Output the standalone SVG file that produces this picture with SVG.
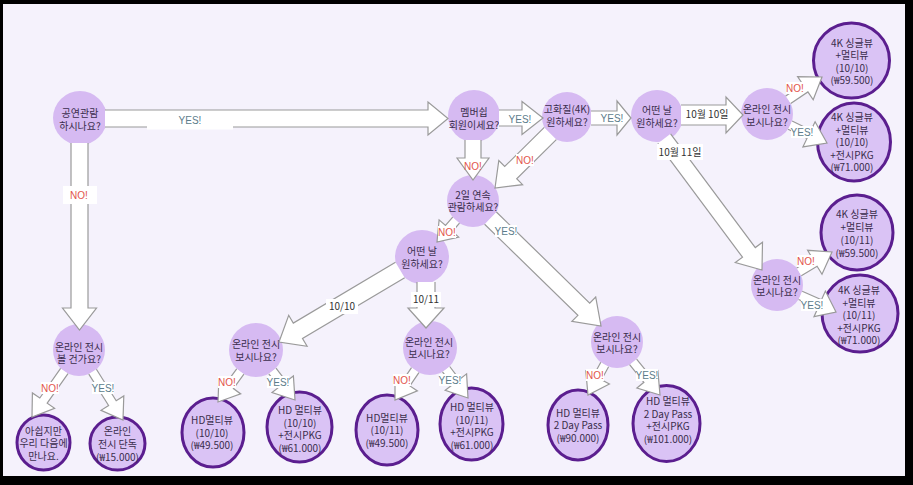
<svg xmlns="http://www.w3.org/2000/svg" width="913" height="485" viewBox="0 0 913 485">
<style>
.q{fill:#D6BAF2}
.e{fill:#DAC3F5;stroke:#5B1E8F;stroke-width:3}
.t{font-family:"Noto Sans CJK KR","Noto Sans",sans-serif;font-size:10px;fill:#3A2D4C;text-anchor:middle}
.ar{fill:#fff;stroke:#9A9A9A;stroke-width:1.2;stroke-linejoin:miter}
.lb{fill:#fff}
.no{font-family:"Liberation Sans",sans-serif;font-size:10px;fill:#E2554B;text-anchor:middle}
.yes{font-family:"Liberation Sans",sans-serif;font-size:10px;fill:#5C7C8B;text-anchor:middle}
.d{font-family:"Noto Sans CJK KR","Noto Sans",sans-serif;font-size:10px;fill:#333;text-anchor:middle}
</style>
<rect x="0" y="0" width="913" height="485" fill="#000"/>
<rect x="3" y="4" width="902" height="472" fill="#F5F2FC"/>

<g id="n1"><circle class="q" cx="80" cy="118" r="27"/><text class="t"><tspan x="80" y="117">공연관람</tspan><tspan x="80" y="130">하시나요?</tspan></text></g>
<g id="n2"><circle class="q" cx="474" cy="116" r="26"/><text class="t"><tspan x="474" y="116">멤버쉽</tspan><tspan x="474" y="129">회원이세요?</tspan></text></g>
<g id="n3"><circle class="q" cx="567" cy="117" r="25"/><text class="t"><tspan x="567" y="113">고화질(4K)</tspan><tspan x="567" y="126">원하세요?</tspan></text></g>
<g id="n4"><circle class="q" cx="657" cy="116" r="26"/><text class="t"><tspan x="657" y="114">어떤 날</tspan><tspan x="657" y="127">원하세요?</tspan></text></g>
<g id="n5"><circle class="q" cx="767" cy="114" r="26"/><text class="t"><tspan x="767" y="113">온라인 전시</tspan><tspan x="767" y="126">보시나요?</tspan></text></g>
<g id="n6"><ellipse class="e" cx="851.5" cy="60.5" rx="38" ry="37.5"/><text class="t"><tspan x="852" y="46.5">4K 싱글뷰</tspan><tspan x="852" y="59">+멀티뷰</tspan><tspan x="852" y="71.5">(10/10)</tspan><tspan x="852" y="84">(₩59.500)</tspan></text></g>
<g id="n7"><ellipse class="e" cx="854" cy="142" rx="36.5" ry="39"/><text class="t"><tspan x="852" y="121">4K 싱글뷰</tspan><tspan x="852" y="133.5">+멀티뷰</tspan><tspan x="852" y="146">(10/10)</tspan><tspan x="852" y="158.5">+전시PKG</tspan><tspan x="852" y="171">(₩71.000)</tspan></text></g>
<g id="n8"><ellipse class="e" cx="857" cy="232.5" rx="36" ry="37.5"/><text class="t"><tspan x="857" y="218">4K 싱글뷰</tspan><tspan x="857" y="231">+멀티뷰</tspan><tspan x="857" y="244">(10/11)</tspan><tspan x="857" y="257">(₩59.500)</tspan></text></g>
<g id="n9"><circle class="q" cx="777" cy="285" r="26"/><text class="t"><tspan x="777" y="283.5">온라인 전시</tspan><tspan x="777" y="296">보시나요?</tspan></text></g>
<g id="n10"><ellipse class="e" cx="860" cy="313.5" rx="38" ry="38.5"/><text class="t"><tspan x="859" y="294">4K 싱글뷰</tspan><tspan x="859" y="306.5">+멀티뷰</tspan><tspan x="859" y="319">(10/11)</tspan><tspan x="859" y="331.5">+전시PKG</tspan><tspan x="859" y="344">(₩71.000)</tspan></text></g>
<g id="n11"><circle class="q" cx="79" cy="350" r="26"/><text class="t"><tspan x="79" y="350.5">온라인 전시</tspan><tspan x="79" y="363">볼 건가요?</tspan></text></g>
<g id="n12"><ellipse class="e" cx="43.5" cy="442.5" rx="26.5" ry="27.5"/><text class="t"><tspan x="43.5" y="434.5">아쉽지만</tspan><tspan x="43.5" y="447">우리 다음에</tspan><tspan x="43.5" y="459.5">만나요.</tspan></text></g>
<g id="n13"><ellipse class="e" cx="117.5" cy="443.5" rx="27.5" ry="26.5"/><text class="t"><tspan x="117.5" y="435">온라인</tspan><tspan x="117.5" y="448">전시 단독</tspan><tspan x="117.5" y="461">(₩15.000)</tspan></text></g>
<g id="n14"><ellipse class="e" cx="213" cy="432.5" rx="31" ry="34.5"/><text class="t"><tspan x="212" y="424">HD멀티뷰</tspan><tspan x="212" y="436.5">(10/10)</tspan><tspan x="212" y="449">(₩49.500)</tspan></text></g>
<g id="n15"><circle class="q" cx="256" cy="350" r="27"/><text class="t"><tspan x="256" y="348">온라인 전시</tspan><tspan x="256" y="361">보시나요?</tspan></text></g>
<g id="n16"><ellipse class="e" cx="299.5" cy="427" rx="32.5" ry="35"/><text class="t"><tspan x="300" y="414">HD 멀티뷰</tspan><tspan x="300" y="426.5">(10/10)</tspan><tspan x="300" y="439">+전시PKG</tspan><tspan x="300" y="451.5">(₩61.000)</tspan></text></g>
<g id="n17"><circle class="q" cx="422" cy="257" r="27"/><text class="t"><tspan x="422" y="255">어떤 날</tspan><tspan x="422" y="268">원하세요?</tspan></text></g>
<g id="n18"><circle class="q" cx="430" cy="348" r="27"/><text class="t"><tspan x="429" y="345.5">온라인 전시</tspan><tspan x="429" y="358">보시나요?</tspan></text></g>
<g id="n19"><ellipse class="e" cx="387" cy="430" rx="31" ry="35"/><text class="t"><tspan x="387" y="421.5">HD멀티뷰</tspan><tspan x="387" y="434">(10/11)</tspan><tspan x="387" y="446.5">(₩49.500)</tspan></text></g>
<g id="n20"><ellipse class="e" cx="471.5" cy="424" rx="31.5" ry="36"/><text class="t"><tspan x="472" y="411">HD 멀티뷰</tspan><tspan x="472" y="423.5">(10/11)</tspan><tspan x="472" y="436">+전시PKG</tspan><tspan x="472" y="448.5">(₩61.000)</tspan></text></g>
<g id="n21"><circle class="q" cx="473" cy="201" r="26"/><text class="t"><tspan x="473" y="198.5">2일 연속</tspan><tspan x="473" y="211">관람하세요?</tspan></text></g>
<g id="n22"><circle class="q" cx="617" cy="342" r="26"/><text class="t"><tspan x="617" y="340.5">온라인 전시</tspan><tspan x="617" y="353">보시나요?</tspan></text></g>
<g id="n23"><ellipse class="e" cx="578" cy="425" rx="30" ry="35"/><text class="t"><tspan x="578" y="416.5">HD 멀티뷰</tspan><tspan x="578" y="429">2 Day Pass</tspan><tspan x="578" y="441.5">(₩90.000)</tspan></text></g>
<g id="n24"><ellipse class="e" cx="666.5" cy="423.5" rx="33.5" ry="38"/><text class="t"><tspan x="668" y="405">HD 멀티뷰</tspan><tspan x="668" y="417.5">2 Day Pass</tspan><tspan x="668" y="430">+전시PKG</tspan><tspan x="668" y="442.5">(₩101.000)</tspan></text></g>

<g id="connectors">
<path class="ar" d="M105,127 L428,127 L428,135 L448,118.5 L428,102 L428,110 L105,110"/>
<path class="ar" d="M71,143 L71,308 L62.5,308 L79.5,330 L96.5,308 L88,308 L88,143"/>
<path class="ar" d="M499,126 L522,126 L522,134.5 L543,118 L522,101.5 L522,110 L499,110"/>
<path class="ar" d="M591,125 L617,125 L617,135 L631,118 L617,101 L617,111 L591,111"/>
<path class="ar" d="M681,125 L726,125 L726,133 L743,115 L726,97 L726,105 L681,105"/>
<path class="ar" d="M657.8,143.4 L742.5,257.2 L735.3,262.5 L762,270 L762.5,242.3 L755.3,247.6 L670.6,133.8"/>
<path class="ar" d="M790.7,103.4 L807.9,91.9 L813.2,99.8 L822,77 L797.6,76.6 L802.9,84.5 L785.7,95.9"/>
<path class="ar" d="M788.1,129.2 L807,138.4 L802.9,146.9 L827,143 L815.1,121.7 L811,130.2 L792.1,121"/>
<path class="ar" d="M801.3,275.7 L817.1,266.2 L822,274.3 L832,252 L807.6,250.3 L812.5,258.4 L796.7,267.9"/>
<path class="ar" d="M798.6,299.5 L817.9,308 L814,316.7 L836,312 L825.4,291.1 L821.5,299.8 L802.2,291.3"/>
<path class="ar" d="M465,140 L465,158 L457,158 L473,180 L489,158 L481,158 L481,140"/>
<path class="ar" d="M544.3,127.4 L504.7,166.5 L498.8,160.5 L495,188 L522.6,184.7 L516.7,178.7 L556.3,139.6"/>
<path class="ar" d="M452.7,217.2 L445.5,225.5 L439.1,219.9 L437,242 L458.7,237.1 L452.3,231.5 L459.5,223.2"/>
<path class="ar" d="M484.6,224.2 L577.9,315.3 L571.9,321.4 L601,326 L595.7,297 L589.7,303.1 L496.4,212"/>
<path class="ar" d="M395.5,262.3 L293.3,323.1 L288.7,315.3 L279,342 L307.1,346.3 L302.5,338.5 L404.7,277.7"/>
<path class="ar" d="M417,282 L417,308 L408,308 L426,328 L444,308 L435,308 L435,282"/>
<path class="ar" d="M60.6,368.4 L39.8,398 L32.4,392.9 L32,417 L54.6,408.3 L47.2,403.2 L68,373.6"/>
<path class="ar" d="M88.8,374.1 L108.6,405.5 L101,410.3 L123,420 L123.8,395.9 L116.2,400.7 L96.4,369.3"/>
<path class="ar" d="M236.7,368.8 L226.2,383.2 L218.9,377.9 L218,402 L240.7,393.9 L233.4,388.6 L243.9,374.2"/>
<path class="ar" d="M268.8,373.8 L279.2,387 L272,392.5 L295,400 L293.4,375.9 L286.2,381.4 L276,368.2"/>
<path class="ar" d="M411.5,367.6 L402.5,380.9 L395,375.9 L395,400 L417.4,390.9 L409.9,385.9 L418.9,372.6"/>
<path class="ar" d="M442.5,371.9 L452.3,384.8 L445.2,390.3 L468,398 L466.6,373.9 L459.5,379.4 L449.7,366.5"/>
<path class="ar" d="M600.8,362.3 L593.7,375.3 L585.8,371 L588,395 L609.4,384 L601.5,379.7 L608.6,366.7"/>
<path class="ar" d="M629.6,364.7 L643.9,382.3 L636.9,388 L660,395 L657.9,371 L650.9,376.7 L636.6,359.1"/>

<rect class="lb" x="147" y="111.5" width="86" height="18"/><text class="yes" x="190" y="123.5">YES!</text>
<rect class="lb" x="63" y="186" width="34" height="18"/><text class="no" x="79" y="198.5">NO!</text>
<rect class="lb" x="508" y="113" width="24" height="12"/><text class="yes" x="520" y="123">YES!</text>
<rect class="lb" x="602" y="112" width="20" height="12"/><text class="yes" x="612" y="121.5">YES!</text>
<rect class="lb" x="684" y="107" width="46" height="15"/><text class="d" x="707" y="118">10월 10일</text>
<rect class="lb" x="657" y="144" width="46" height="16"/><text class="d" x="680" y="156">10월 11일</text>
<rect class="lb" x="786" y="82" width="18" height="12"/><text class="no" x="795" y="91.5">NO!</text>
<rect class="lb" x="791" y="126" width="22" height="12"/><text class="yes" x="802" y="135.5">YES!</text>
<rect class="lb" x="797" y="255" width="18" height="12"/><text class="no" x="806" y="264.5">NO!</text>
<rect class="lb" x="801" y="299" width="22" height="12"/><text class="yes" x="812" y="308.5">YES!</text>
<text class="no" x="473" y="169.5">NO!</text>
<rect class="lb" x="516" y="154" width="18" height="12"/><text class="no" x="525" y="163.5">NO!</text>
<rect class="lb" x="438" y="226" width="18" height="12"/><text class="no" x="447" y="235.5">NO!</text>
<rect class="lb" x="495" y="225" width="22" height="12"/><text class="yes" x="506" y="234.5">YES!</text>
<rect class="lb" x="326" y="299" width="32" height="15"/><text class="d" x="342" y="310">10/10</text>
<rect class="lb" x="411" y="292" width="30" height="15"/><text class="d" x="426" y="303">10/11</text>
<rect class="lb" x="41" y="382" width="18" height="12"/><text class="no" x="50" y="391.5">NO!</text>
<rect class="lb" x="92" y="382" width="22" height="12"/><text class="yes" x="103" y="391.5">YES!</text>
<rect class="lb" x="218" y="376" width="18" height="12"/><text class="no" x="227" y="385.5">NO!</text>
<rect class="lb" x="267" y="376" width="22" height="12"/><text class="yes" x="278" y="385.5">YES!</text>
<rect class="lb" x="393" y="374" width="18" height="12"/><text class="no" x="402" y="383.5">NO!</text>
<rect class="lb" x="439" y="374" width="22" height="12"/><text class="yes" x="450" y="383.5">YES!</text>
<rect class="lb" x="586" y="369" width="18" height="12"/><text class="no" x="595" y="378.5">NO!</text>
<rect class="lb" x="636" y="369" width="22" height="12"/><text class="yes" x="647" y="378.5">YES!</text>
</g>
</svg>
